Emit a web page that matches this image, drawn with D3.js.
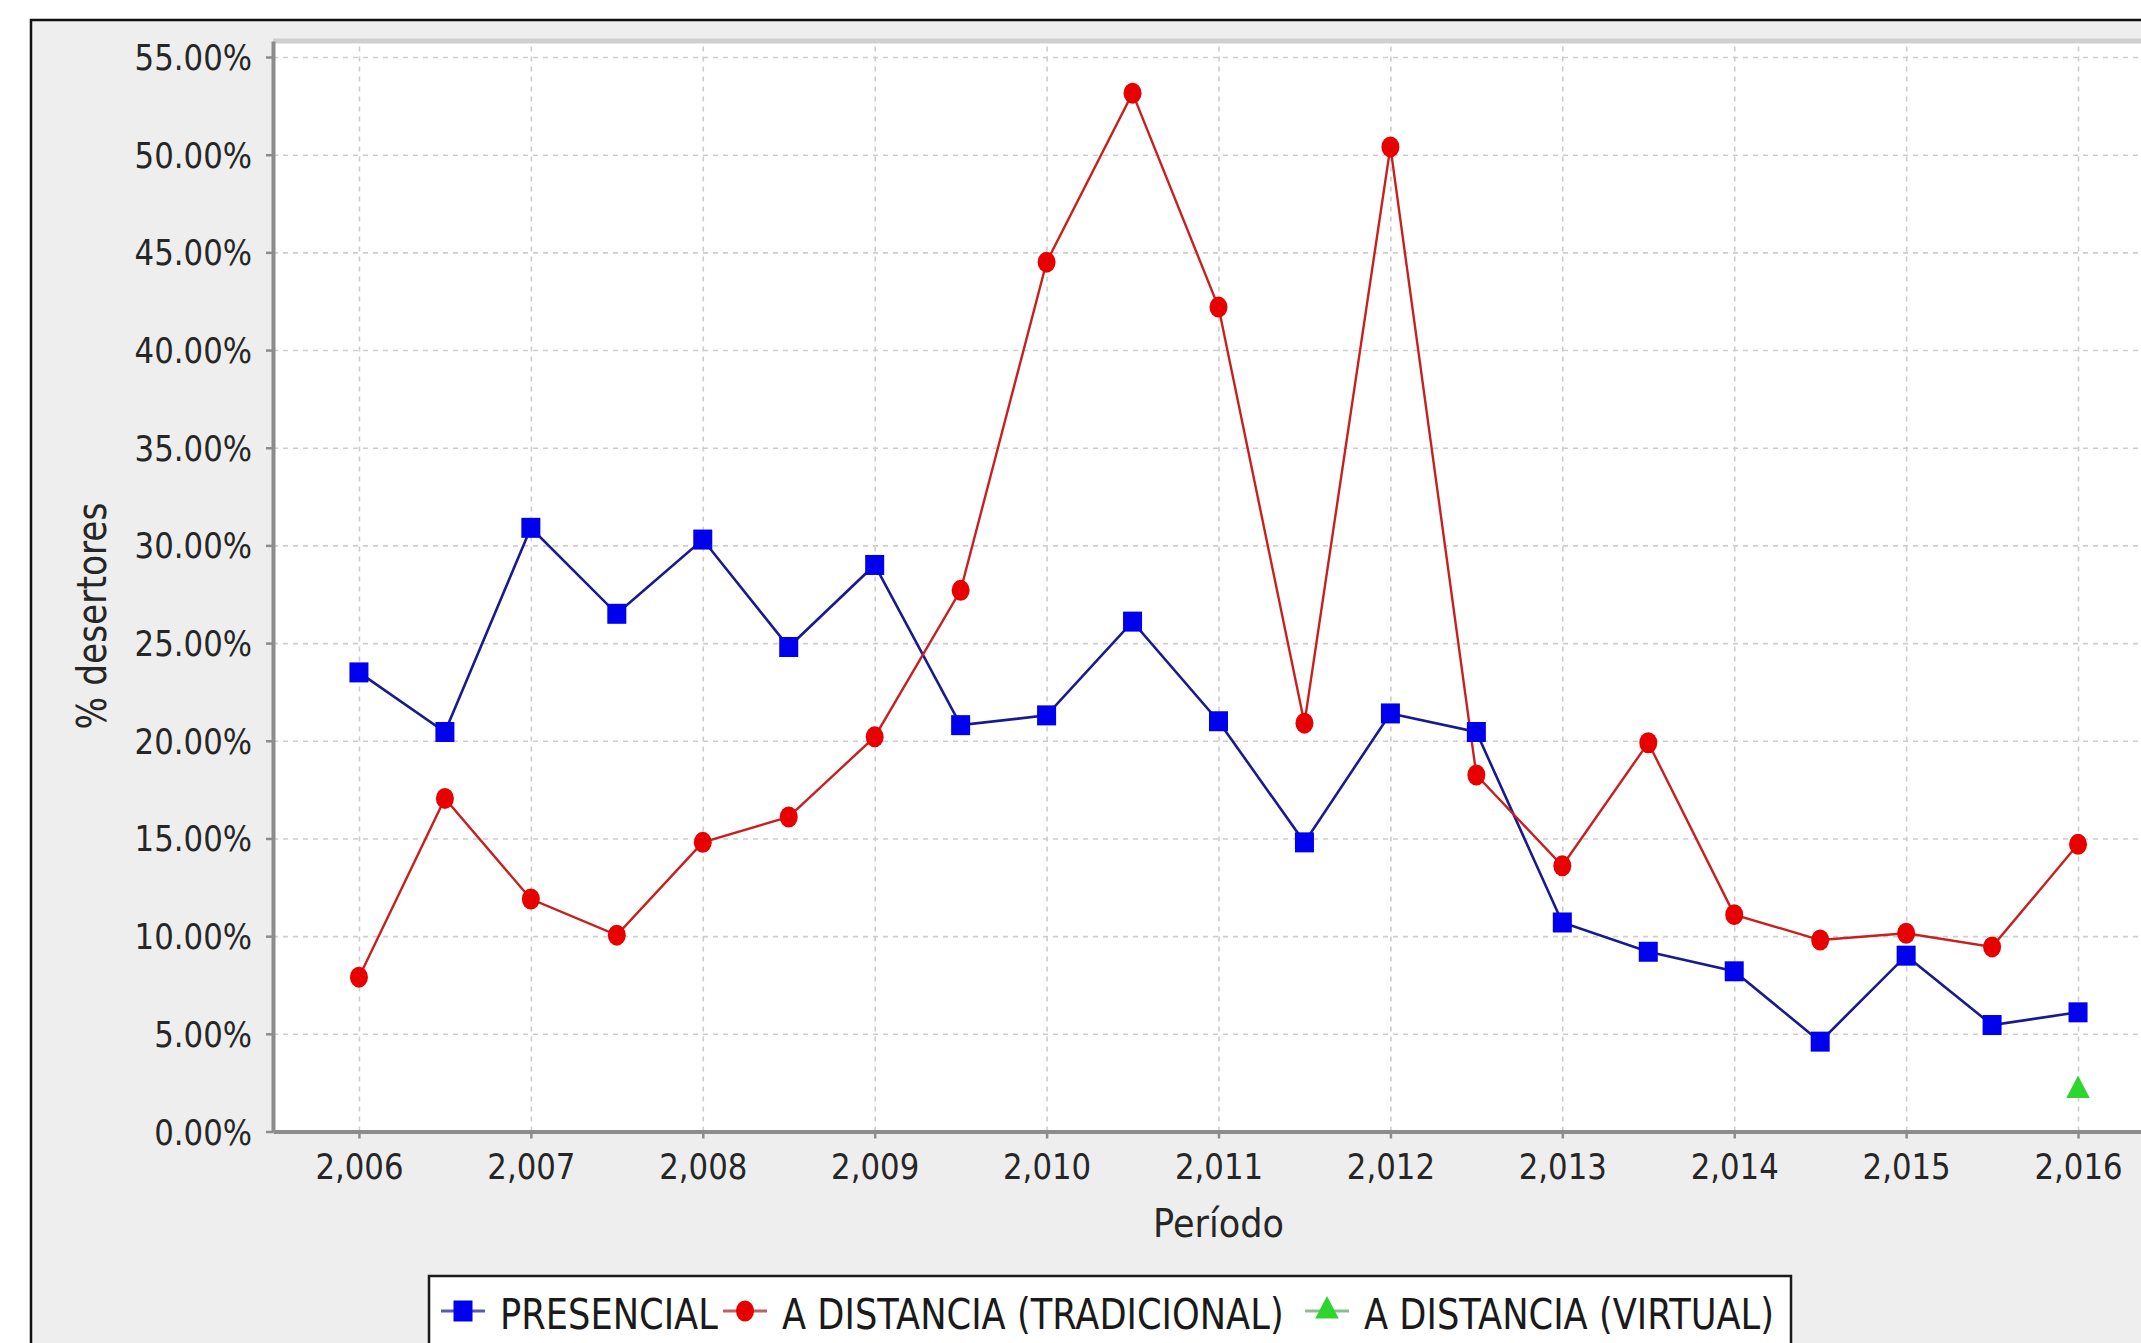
<!DOCTYPE html>
<html>
<head>
<meta charset="utf-8">
<script src="https://cdn.jsdelivr.net/npm/d3@7"></script>
<style>
html,body{margin:0;padding:0;background:#fff;overflow:hidden;}
svg{display:block;}
</style>
</head>
<body>
<svg id="chart" width="2141" height="1343"></svg>
<script>
// ---- data ----
const periods = [2006, 2006.5, 2007, 2007.5, 2008, 2008.5, 2009, 2009.5, 2010, 2010.5, 2011, 2011.5, 2012, 2012.5, 2013, 2013.5, 2014, 2014.5, 2015, 2015.5, 2016];
const presencial = [23.5, 20.45, 30.9, 26.5, 30.3, 24.8, 29.0, 20.8, 21.3, 26.1, 21.0, 14.8, 21.4, 20.45, 10.7, 9.2, 8.2, 4.6, 9.0, 5.45, 6.1];
const tradicional = [7.9, 17.05, 11.9, 10.05, 14.8, 16.1, 20.2, 27.7, 44.5, 53.15, 42.2, 20.9, 50.4, 18.25, 13.6, 19.9, 11.1, 9.8, 10.15, 9.45, 14.7];
const virtualPeriods = [2016];
const virtualVals = [2.1];
const seriesNames = ["PRESENCIAL", "A DISTANCIA (TRADICIONAL)", "A DISTANCIA (VIRTUAL)"];
const xTickValues = [2006, 2007, 2008, 2009, 2010, 2011, 2012, 2013, 2014, 2015, 2016];
const xTickLabels = ["2,006", "2,007", "2,008", "2,009", "2,010", "2,011", "2,012", "2,013", "2,014", "2,015", "2,016"];
const yTickValues = [0, 5, 10, 15, 20, 25, 30, 35, 40, 45, 50, 55];
const yTickLabels = ["0.00%", "5.00%", "10.00%", "15.00%", "20.00%", "25.00%", "30.00%", "35.00%", "40.00%", "45.00%", "50.00%", "55.00%"];
const xTitle = "Período";
const yTitle = "% desertores";

// ---- layout ----
const svg = d3.select("#chart");
const plotL = 273, plotT = 41, plotB = 1131.5, plotR = 2164;
const x = d3.scaleLinear().domain([2005.5, 2016.5]).range([plotL, plotR]);
const y = d3.scaleLinear().domain([0, 55.82]).range([plotB, plotT]);
const FONT = "'DejaVu Sans', Verdana, sans-serif";
const TXT = "#262626";

svg.append("rect").attr("width", 2141).attr("height", 1343).attr("fill", "#ffffff");
svg.append("rect").attr("x", 31).attr("y", 20).attr("width", 2200).attr("height", 1400)
  .attr("fill", "#eeeeee").attr("stroke", "#111").attr("stroke-width", 2.5);

// plot background
svg.append("rect").attr("x", plotL).attr("y", plotT).attr("width", plotR - plotL).attr("height", plotB - plotT)
  .attr("fill", "#ffffff");

// gridlines
const gx = svg.append("g").attr("transform", `translate(0,${plotB})`)
  .call(d3.axisBottom(x).tickValues(xTickValues).tickSize(-(plotB - plotT)).tickFormat(""));
gx.select(".domain").remove();
gx.selectAll("line").attr("stroke", "#cdcdcd").attr("stroke-width", 1.6).attr("stroke-dasharray", "5,5");

const gy = svg.append("g").attr("transform", `translate(${plotL},0)`)
  .call(d3.axisLeft(y).tickValues(yTickValues.filter(v => v > 0)).tickSize(-(plotR - plotL)).tickFormat(""));
gy.select(".domain").remove();
gy.selectAll("line").attr("stroke", "#cdcdcd").attr("stroke-width", 1.6).attr("stroke-dasharray", "5,5");

// plot outline top
svg.append("line").attr("x1", plotL).attr("x2", plotR).attr("y1", plotT).attr("y2", plotT)
  .attr("stroke", "#cfcfcf").attr("stroke-width", 5);

// axes
const SX = 0.88;
const axY = svg.append("g").attr("transform", `translate(${plotL},0)`)
  .call(d3.axisLeft(y).tickValues(yTickValues).tickFormat((d, i) => yTickLabels[i]).tickSize(7).tickSizeOuter(0));
axY.select(".domain").attr("stroke", "#8c8c8c").attr("stroke-width", 4);
axY.selectAll(".tick line").attr("stroke", "#8c8c8c").attr("stroke-width", 2.5);
axY.selectAll(".tick text")
  .attr("font-family", FONT).attr("font-size", 35).attr("fill", TXT)
  .attr("text-anchor", "end").attr("dy", null).attr("y", 12.5)
  .attr("x", -21 / SX).attr("transform", `scale(${SX},1)`);

const axX = svg.append("g").attr("transform", `translate(0,${plotB})`)
  .call(d3.axisBottom(x).tickValues(xTickValues).tickFormat((d, i) => xTickLabels[i]).tickSize(7).tickSizeOuter(0));
axX.select(".domain").attr("stroke", "#8c8c8c").attr("stroke-width", 4);
axX.selectAll(".tick line").attr("stroke", "#8c8c8c").attr("stroke-width", 2.5);
axX.selectAll(".tick text")
  .attr("font-family", FONT).attr("font-size", 35).attr("fill", TXT)
  .attr("dy", null).attr("y", 48).attr("transform", `scale(${SX},1)`);

// axis titles
svg.append("text").attr("transform", `translate(${(plotL + plotR) / 2},1237) scale(0.9,1)`)
  .attr("text-anchor", "middle").attr("font-family", FONT).attr("font-size", 39).attr("fill", TXT)
  .text(xTitle);
svg.append("text").attr("transform", `translate(106,616) rotate(-90) scale(0.86,1)`)
  .attr("text-anchor", "middle").attr("font-family", FONT).attr("font-size", 40).attr("fill", TXT)
  .text(yTitle);

// series
const BLUE_LINE = "#1a1a90", BLUE = "#0000ee";
const RED_LINE = "#c82020", RED = "#e80000";
const GREEN = "#2fd52f";

const line = d3.line().x(d => x(d[0])).y(d => y(d[1]));
const blueData = periods.map((p, i) => [p, presencial[i]]);
const redData = periods.map((p, i) => [p, tradicional[i]]);
const greenData = virtualPeriods.map((p, i) => [p, virtualVals[i]]);

svg.append("path").datum(blueData).attr("d", line).attr("fill", "none")
  .attr("stroke", BLUE_LINE).attr("stroke-width", 2.6);
svg.append("path").datum(redData).attr("d", line).attr("fill", "none")
  .attr("stroke", RED_LINE).attr("stroke-width", 2.4);

svg.append("g").selectAll("rect").data(blueData).join("rect")
  .attr("x", d => x(d[0]) - 9.5).attr("y", d => y(d[1]) - 10)
  .attr("width", 19).attr("height", 20).attr("fill", BLUE);
svg.append("g").selectAll("ellipse").data(redData).join("ellipse")
  .attr("cx", d => x(d[0])).attr("cy", d => y(d[1]))
  .attr("rx", 9).attr("ry", 10.5).attr("fill", RED);
const tri = d3.symbol().type(d3.symbolTriangle).size(240);
svg.append("g").selectAll("path").data(greenData).join("path")
  .attr("d", tri).attr("transform", d => `translate(${x(d[0])},${y(d[1])}) scale(1,1.1)`)
  .attr("fill", GREEN);

// legend
const lg = svg.append("g");
lg.append("rect").attr("x", 429).attr("y", 1276).attr("width", 1362).attr("height", 120)
  .attr("fill", "#ffffff").attr("stroke", "#1a1a1a").attr("stroke-width", 2.5);
const legendItems = [
  {name: seriesNames[0], cx: 463, tx: 500, color: BLUE, lineColor: "#5a5ab0", shape: "square"},
  {name: seriesNames[1], cx: 745, tx: 782, color: RED, lineColor: "#c06060", shape: "circle"},
  {name: seriesNames[2], cx: 1327, tx: 1364, color: GREEN, lineColor: "#8abf8a", shape: "triangle"}
];
const ly = 1311;
legendItems.forEach(it => {
  lg.append("line").attr("x1", it.cx - 22).attr("x2", it.cx + 22).attr("y1", ly).attr("y2", ly)
    .attr("stroke", it.lineColor).attr("stroke-width", 3);
  if (it.shape === "square") {
    lg.append("rect").attr("x", it.cx - 9.5).attr("y", ly - 10.5).attr("width", 19).attr("height", 21).attr("fill", it.color);
  } else if (it.shape === "circle") {
    lg.append("ellipse").attr("cx", it.cx).attr("cy", ly).attr("rx", 9).attr("ry", 10.5).attr("fill", it.color);
  } else {
    lg.append("path").attr("d", tri).attr("transform", `translate(${it.cx},${ly}) scale(1,1.1)`).attr("fill", it.color);
  }
  lg.append("text").attr("transform", `translate(${it.tx},1329) scale(0.84,1)`)
    .attr("font-family", FONT).attr("font-size", 42).attr("fill", "#1a1a1a").text(it.name);
});
</script>
</body>
</html>
